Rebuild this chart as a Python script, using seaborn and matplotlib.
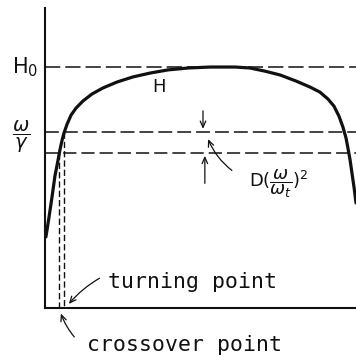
import matplotlib
matplotlib.use("Agg")
import matplotlib.pyplot as plt
import numpy as np
import pandas as pd
import seaborn as sns

# Internal field H across the sample (position normalised to 0..1, H in units of H0)
position = [0.003, 0.013, 0.023, 0.032, 0.042, 0.048, 0.055, 0.061, 0.071, 0.084,
            0.100, 0.122, 0.151, 0.186, 0.232, 0.283, 0.338, 0.395, 0.460, 0.531,
            0.611, 0.659, 0.707, 0.756, 0.807, 0.852, 0.884, 0.910, 0.929, 0.945,
            0.958, 0.968, 0.974, 0.981, 0.987, 0.994, 1.000]
field = [0.295, 0.378, 0.465, 0.548, 0.614, 0.656, 0.697, 0.726, 0.763, 0.801,
         0.830, 0.859, 0.888, 0.913, 0.938, 0.959, 0.975, 0.988, 0.996, 1.000,
         1.000, 0.996, 0.983, 0.967, 0.942, 0.917, 0.896, 0.867, 0.838, 0.797,
         0.751, 0.705, 0.664, 0.614, 0.560, 0.498, 0.436]

# Reference levels
H0 = 1.0
omega_over_gamma = 0.732
exchange_shift = 0.089          # D (omega / omega_t)^2
lower_level = omega_over_gamma - exchange_shift

# Positions where the field meets the two levels
crossover_x = 0.045
turning_x = 0.061

labels = {
    "H0": r"$\mathregular{H_0}$",
    "wg": r"$\dfrac{\omega}{\gamma}$",
    "H": "H",
    "D": r"$\mathrm{D}(\dfrac{\omega}{\omega_t})^2$",
    "turning": "turning point",
    "crossover": "crossover point",
}

sns.set_style("white")
plt.rcParams["mathtext.fontset"] = "dejavusans"
plt.rcParams["lines.scale_dashes"] = False

fig = plt.figure(figsize=(3.56, 3.58), dpi=100)
ax = fig.add_axes([45 / 356, 50 / 358, 311 / 356, 300 / 358])
ax.set_xlim(0, 1.0)
ax.set_ylim(0, 1.245)

ink = "#111111"

df = pd.DataFrame({"position": position, "H": field})
sns.lineplot(data=df, x="position", y="H", sort=False, color=ink, lw=2.3, ax=ax)

# Horizontal reference levels
ax.axhline(H0, color=ink, lw=1.1, dashes=(11, 3.6))
ax.axhline(omega_over_gamma, color=ink, lw=1.1, dashes=(10, 3.6))
ax.axhline(lower_level, color=ink, lw=1.1, dashes=(9.5, 3.6))

# Vertical drops to the baseline
for xv, top in [(crossover_x, lower_level), (turning_x, omega_over_gamma)]:
    ax.plot([xv, xv], [top, 0], color=ink, lw=1.0, dashes=(4.5, 2.2))

ax.set_xlabel("")
ax.set_ylabel("")
ax.set_xticks([])
ax.set_yticks([])
for side in ("top", "right"):
    ax.spines[side].set_visible(False)
for side in ("left", "bottom"):
    ax.spines[side].set_color(ink)
    ax.spines[side].set_linewidth(1.5)

# Axis labels on the left
ax.text(-0.022, 0.975, labels["H0"], ha="right", va="baseline",
        fontsize=15, color=ink)
ax.text(-0.077, 0.71, labels["wg"], ha="center", va="center",
        fontsize=14, color=ink)
ax.text(0.367, 0.917, labels["H"], ha="center", va="center",
        fontsize=13, color=ink)

# Exchange shift between the two levels
arrow_kw = dict(arrowstyle="->,head_length=0.45,head_width=0.2", color=ink, lw=0.9)
ax.annotate("", xy=(0.508, omega_over_gamma), xytext=(0.508, 0.830), arrowprops=arrow_kw)
ax.annotate("", xy=(0.514, lower_level), xytext=(0.514, 0.506), arrowprops=arrow_kw)
ax.annotate("", xy=(0.521, 0.712), xytext=(0.608, 0.564),
            arrowprops=dict(arrow_kw, connectionstyle="arc3,rad=-0.15"))
ax.text(0.752, 0.515, labels["D"], ha="center", va="center", fontsize=13, color=ink)

# Turning and crossover points
mono = "DejaVu Sans Mono"
ax.text(0.203, 0.083, labels["turning"], ha="left", va="baseline",
        fontsize=15.5, family=mono, color=ink)
ax.annotate("", xy=(turning_x + 0.01, 0.008), xytext=(0.183, 0.129),
            arrowprops=dict(arrow_kw, connectionstyle="arc3,rad=0.1"),
            annotation_clip=False)
ax.text(0.135, -0.178, labels["crossover"], ha="left", va="baseline",
        fontsize=15.5, family=mono, color=ink, clip_on=False)
ax.annotate("", xy=(crossover_x + 0.003, -0.012), xytext=(0.100, -0.129),
            arrowprops=dict(arrow_kw, connectionstyle="arc3,rad=-0.1"),
            annotation_clip=False)

fig.savefig("out.png", dpi=100, facecolor="white")
